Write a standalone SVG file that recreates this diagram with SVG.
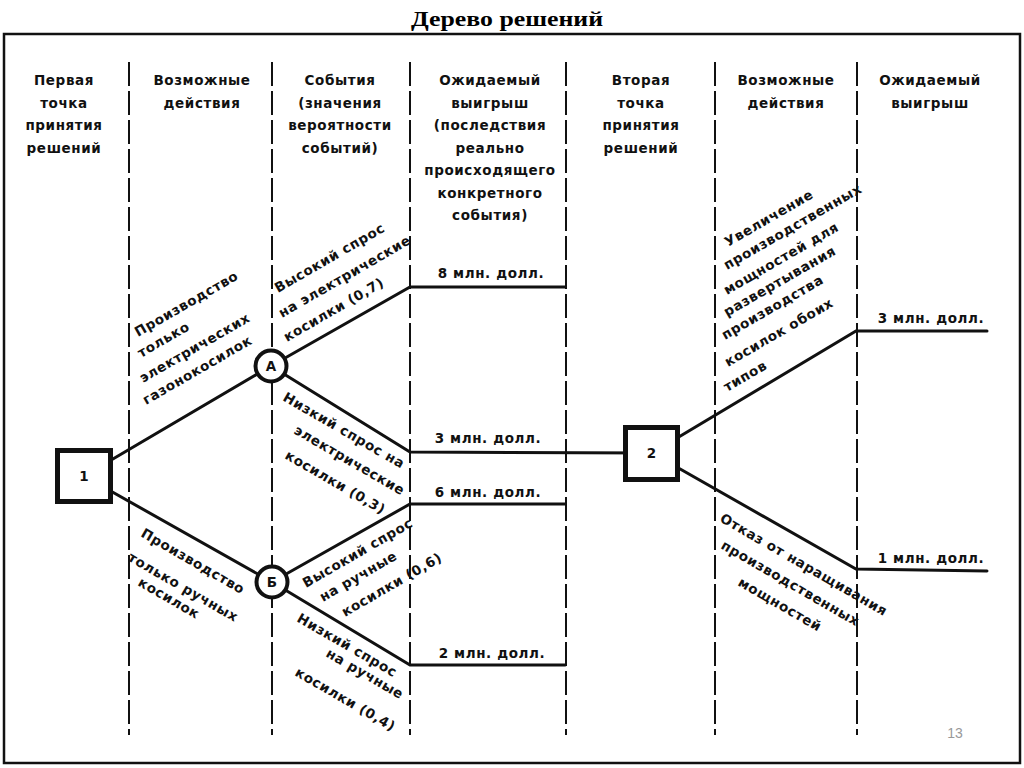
<svg xmlns="http://www.w3.org/2000/svg" width="1024" height="768" viewBox="0 0 1024 768">
<style>
.t{font-family:"DejaVu Sans","Liberation Sans",sans-serif;font-weight:bold;font-size:13.5px;letter-spacing:0.6px;fill:#111}
.h{text-anchor:middle}
.sep{stroke:#111;stroke-width:2;stroke-dasharray:24 5;fill:none}
.br{stroke:#111;stroke-width:3;fill:none;stroke-linecap:round}
.sq{fill:#fff;stroke:#111;stroke-width:5}
.ci{fill:#fff;stroke:#111;stroke-width:4}
.nl{font-family:"DejaVu Sans","Liberation Sans",sans-serif;font-weight:bold;font-size:13.5px;fill:#111;text-anchor:middle}
</style>
<rect width="1024" height="768" fill="#fff"/>
<text x="507" y="26" font-family="Liberation Serif, serif" font-weight="bold" font-size="22" text-anchor="middle" textLength="192" lengthAdjust="spacingAndGlyphs" fill="#000">Дерево решений</text>
<rect x="4" y="34" width="1016" height="729" fill="none" stroke="#111" stroke-width="2.5"/>
<g id="separators">
<line class="sep" x1="129" y1="62" x2="129" y2="735"/>
<line class="sep" x1="272" y1="62" x2="272" y2="735"/>
<line class="sep" x1="410" y1="62" x2="410" y2="735"/>
<line class="sep" x1="566" y1="62" x2="566" y2="735"/>
<line class="sep" x1="715" y1="62" x2="715" y2="735"/>
<line class="sep" x1="857" y1="62" x2="857" y2="735"/>
</g>
<g id="headers" class="t h">
<text x="64" y="85">Первая</text><text x="64" y="107.5">точка</text><text x="64" y="130">принятия</text><text x="64" y="152.5">решений</text>
<text x="202" y="85">Возможные</text><text x="202" y="107.5">действия</text>
<text x="340" y="85">События</text><text x="340" y="107.5">(значения</text><text x="340" y="130">вероятности</text><text x="340" y="152.5">событий)</text>
<text x="490" y="85">Ожидаемый</text><text x="490" y="107.5">выигрыш</text><text x="490" y="130">(последствия</text><text x="490" y="152.5">реально</text><text x="490" y="175">происходящего</text><text x="490" y="197.5">конкретного</text><text x="490" y="220">события)</text>
<text x="641" y="85">Вторая</text><text x="641" y="107.5">точка</text><text x="641" y="130">принятия</text><text x="641" y="152.5">решений</text>
<text x="786" y="85">Возможные</text><text x="786" y="107.5">действия</text>
<text x="930" y="85">Ожидаемый</text><text x="930" y="107.5">выигрыш</text>
</g>
<g id="connectors">
<line class="br" x1="84" y1="476" x2="271" y2="366"/>
<line class="br" x1="84" y1="476" x2="272" y2="582"/>
<polyline class="br" points="271,366 410,287 565,287"/>
<polyline class="br" points="271,366 410,452 652,453"/>
<polyline class="br" points="272,582 410,504 565,504"/>
<polyline class="br" points="272,582 410,665 565,665"/>
<polyline class="br" points="652,453 856,331 987,331"/>
<polyline class="br" points="652,453 856,569 987,571"/>
</g>
<g id="payoffs" class="t h">
<text x="491" y="278">8 млн. долл.</text>
<text x="488" y="443">3 млн. долл.</text>
<text x="488" y="497">6 млн. долл.</text>
<text x="492" y="658">2 млн. долл.</text>
<text x="931" y="323">3 млн. долл.</text>
<text x="931" y="563">1 млн. долл.</text>
</g>
<g id="action-labels" class="t">
<text transform="translate(138 337) rotate(-30)">Производство</text>
<text transform="translate(141 358) rotate(-30)">только</text>
<text transform="translate(143 383) rotate(-30)">электрических</text>
<text transform="translate(146 405) rotate(-30)">газонокосилок</text>
<text transform="translate(140 536) rotate(30)">Производство</text>
<text transform="translate(127 560) rotate(30)">только ручных</text>
<text transform="translate(137 585) rotate(30)">косилок</text>
<text transform="translate(728 247) rotate(-30)">Увеличение</text>
<text transform="translate(727 270) rotate(-30)">производственных</text>
<text transform="translate(727 295) rotate(-30)">мощностей для</text>
<text transform="translate(727 317) rotate(-30)">развертывания</text>
<text transform="translate(725 340) rotate(-30)">производства</text>
<text transform="translate(728 367) rotate(-30)">косилок обоих</text>
<text transform="translate(727 392) rotate(-30)">типов</text>
<text transform="translate(719 521) rotate(30)">Отказ от наращивания</text>
<text transform="translate(720 548) rotate(30)">производственных</text>
<text transform="translate(737 585) rotate(30)">мощностей</text>
</g>
<g id="event-labels" class="t">
<text transform="translate(278 293) rotate(-30)">Высокий спрос</text>
<text transform="translate(282 318) rotate(-30)">на электрические</text>
<text transform="translate(287 342) rotate(-30)">косилки (0,7)</text>
<text transform="translate(282 400) rotate(30)">Низкий спрос на</text>
<text transform="translate(293 433) rotate(30)">электрические</text>
<text transform="translate(284 458) rotate(30)">косилки (0,3)</text>
<text transform="translate(306 588) rotate(-30)">Высокий спрос</text>
<text transform="translate(323 602) rotate(-30)">на ручные</text>
<text transform="translate(345 617) rotate(-30)">косилки (0,6)</text>
<text transform="translate(296 621) rotate(30)">Низкий спрос</text>
<text transform="translate(325 656) rotate(30)">на ручные</text>
<text transform="translate(294 675) rotate(30)">косилки (0,4)</text>
</g>
<g id="node-1"><rect class="sq" x="57.5" y="450.5" width="53" height="51"/><text class="nl" x="84" y="481">1</text></g>
<g id="node-A"><circle class="ci" cx="271" cy="366" r="15.5"/><text class="nl" x="271" y="371">А</text></g>
<g id="node-B"><circle class="ci" cx="272" cy="582" r="15.5"/><text class="nl" x="272" y="587">Б</text></g>
<g id="node-2"><rect class="sq" x="625.5" y="427.5" width="52" height="52"/><text class="nl" x="651.5" y="458">2</text></g>
<text x="955" y="738" font-family="Liberation Sans, sans-serif" font-size="14" fill="#999" text-anchor="middle">13</text>
</svg>
